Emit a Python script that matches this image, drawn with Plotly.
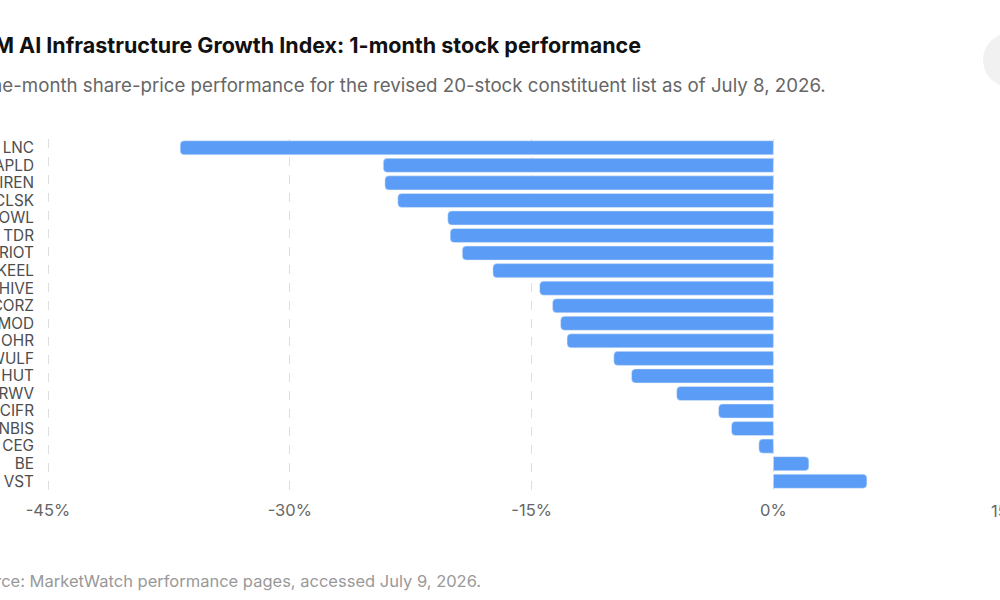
import plotly.graph_objects as go

# one-month performance, sorted worst to best
tickers = ["LNC", "APLD", "IREN", "CLSK", "OWL", "TDR", "RIOT", "KEEL", "HIVE", "CORZ",
           "MOD", "OHR", "WULF", "HUT", "CRWV", "CIFR", "NBIS", "CEG", "BE", "VST"]
perf_pct = [-36.8, -24.2, -24.1, -23.3, -20.2, -20.05, -19.3, -17.4, -14.5, -13.7,
            -13.2, -12.8, -9.9, -8.8, -6.0, -3.4, -2.6, -0.9, 2.2, 5.8]
tick_vals = [-45, -30, -15, 0]
tick_text = ["-45%", "-30%", "-15%", "0%"]

title = "M AI Infrastructure Growth Index: 1-month stock performance"
subtitle = "One-month share-price performance for the revised 20-stock constituent list as of July 8, 2026."
source = "Source: MarketWatch performance pages, accessed July 9, 2026."

W, H = 1000, 600
L, R, T, B = 44, 0, 139, 110
PW, PH = W - L - R, H - T - B
PX_PER_PCT = 16.12
X_MIN = -45 - 4 / PX_PER_PCT  # a few pixels of room so the -45% grid line shows


def px_x(p):
    return (p - L) / PW


def px_y(p):
    return (H - B - p) / PH


FONT = "Inter, 'Open Sans', sans-serif"

fig = go.Figure(
    go.Bar(
        x=perf_pct,
        y=tickers,
        orientation="h",
        marker=dict(color="#5b9df6", cornerradius=4),
        width=0.8,
        hoverinfo="x+y",
    )
)

fig.update_layout(
    width=W,
    height=H,
    margin=dict(l=L, r=R, t=T, b=B),
    paper_bgcolor="#ffffff",
    plot_bgcolor="#ffffff",
    font=dict(family=FONT, color="#555"),
    showlegend=False,
    xaxis=dict(
        range=[X_MIN, X_MIN + PW / PX_PER_PCT],
        tickvals=tick_vals,
        ticktext=tick_text,
        showgrid=True,
        gridcolor="#dedede",
        griddash="dash",
        gridwidth=1,
        zeroline=False,
        showline=False,
        ticks="",
        automargin=False,
        tickfont=dict(size=16.5, color="#666"),
        ticklabelstandoff=8,
    ),
    yaxis=dict(
        autorange="reversed",
        dtick=1,
        showgrid=False,
        zeroline=False,
        showline=False,
        ticks="",
        automargin=False,
        tickfont=dict(size=15.3, color="#4d4d4d"),
        ticklabelstandoff=9,
    ),
    shapes=[
        dict(type="circle", xref="paper", yref="paper",
             x0=px_x(983), x1=px_x(1037), y0=px_y(87), y1=px_y(33),
             fillcolor="#f1f1f1", line=dict(width=0), layer="below"),
    ],
    annotations=[
        dict(text=f"<b>{title}</b>", xref="paper", yref="paper",
             x=px_x(643), y=px_y(45), xanchor="right", yanchor="middle",
             showarrow=False, font=dict(size=21.5, color="#111")),
        dict(text=subtitle, xref="paper", yref="paper",
             x=px_x(828), y=px_y(86), xanchor="right", yanchor="middle",
             showarrow=False, font=dict(size=18.7, color="#666")),
        dict(text=source, xref="paper", yref="paper",
             x=px_x(483), y=px_y(581), xanchor="right", yanchor="middle",
             showarrow=False, font=dict(size=16.5, color="#999")),
        dict(text="15%", xref="paper", yref="paper",
             x=px_x(989), y=px_y(511), xanchor="left", yanchor="middle",
             showarrow=False, font=dict(size=16.5, color="#666")),
    ],
)

# drop the default page margin so the figure sits at the window's corner
fig.write_html("out.html", config={"displayModeBar": False},
               post_script="document.body.style.margin='0';")
